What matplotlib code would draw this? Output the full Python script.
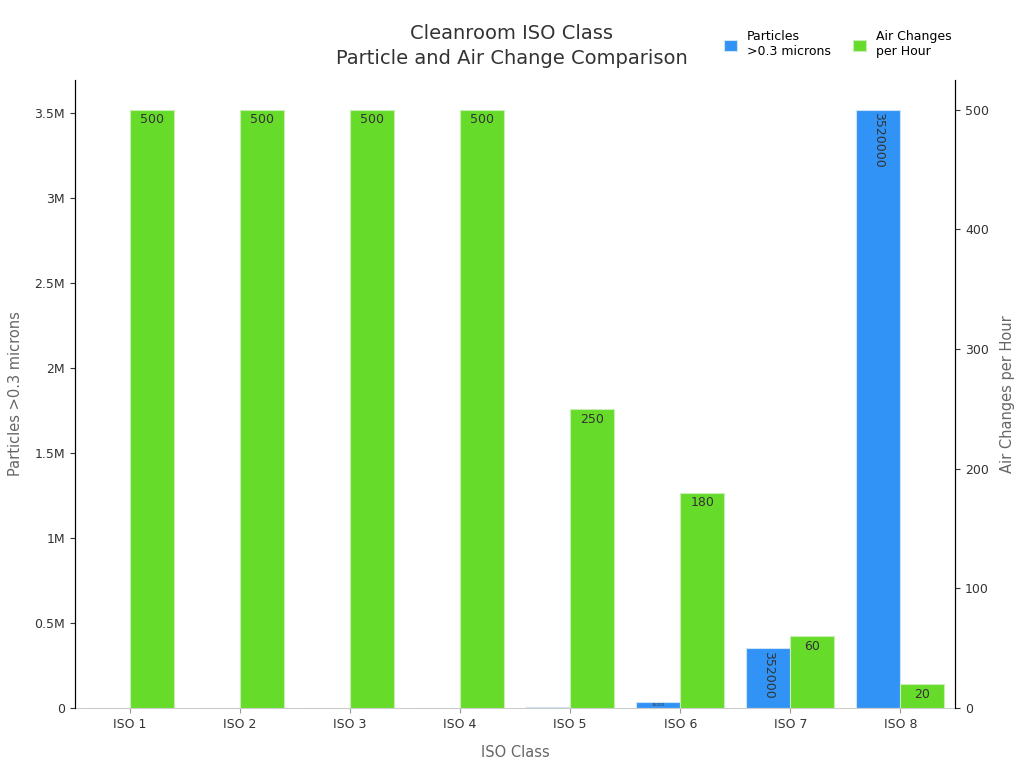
import matplotlib.pyplot as plt
import numpy as np
from matplotlib.ticker import FuncFormatter

classes = ["ISO 1", "ISO 2", "ISO 3", "ISO 4", "ISO 5", "ISO 6", "ISO 7", "ISO 8"]
particles = [0, 4, 35, 352, 3520, 35200, 352000, 3520000]
air_changes = [500, 500, 500, 500, 250, 180, 60, 20]

blue = "#3193f5"
green = "#66db2a"
text_gray = "#666666"

fig = plt.figure(figsize=(10.24, 7.68), dpi=100)
ax = fig.add_axes([0.073, 0.078, 0.86, 0.818])
ax2 = ax.twinx()

x = np.arange(len(classes))
width = 0.4

b1 = ax.bar(x - width / 2, particles, width=width, color=blue, edgecolor="#cfe3f7", linewidth=0.8,
            label="Particles\n>0.3 microns")
b2 = ax2.bar(x + width / 2, air_changes, width=width, color=green, edgecolor="#c8eeb4", linewidth=0.8,
             label="Air Changes\nper Hour")

ax.set_ylim(0, max(particles) * 1.05)
ax2.set_ylim(0, max(air_changes) * 1.05)
ax.set_xlim(-0.5, len(classes) - 0.5)

def fmt_m(v, pos):
    if v == 0:
        return "0"
    return f"{v / 1e6:g}M"

ax.yaxis.set_major_formatter(FuncFormatter(fmt_m))
ax.set_yticks(np.arange(0, 3.6e6, 0.5e6))
ax2.set_yticks(np.arange(0, 501, 100))
ax.set_xticks(x)
ax.set_xticklabels(classes)

for a in (ax, ax2):
    a.spines["top"].set_visible(False)
    a.tick_params(labelsize=9, colors="#333333")
ax.spines["bottom"].set_color("#cccccc")
ax2.spines["bottom"].set_visible(False)
ax.tick_params(axis="x", colors="#999999", labelcolor="#333333")

ax.set_xlabel("ISO Class", fontsize=10.5, color=text_gray, labelpad=10)
ax.set_ylabel("Particles >0.3 microns", fontsize=10.5, color=text_gray, labelpad=8)
ax2.set_ylabel("Air Changes per Hour", fontsize=10.5, color=text_gray, labelpad=8)

# value labels (only where the bar is tall enough to hold them)
ymax1 = ax.get_ylim()[1]
for rect, v in zip(b1, particles):
    h = rect.get_height()
    frac = h / ymax1
    cx = rect.get_x() + rect.get_width() / 2
    if frac > 0.05:
        ax.text(cx, h - ymax1 * 0.004, str(v), rotation=270, ha="center", va="top",
                fontsize=9, color="#333333")
    elif frac > 0.005:
        ax.text(cx, h / 2, str(v), ha="center", va="center", fontsize=3, color="#333333")

for rect, v in zip(b2, air_changes):
    h = rect.get_height()
    ax2.text(rect.get_x() + rect.get_width() / 2, h - 3, str(v),
             ha="center", va="top", fontsize=9, color="#333333")

fig.text(0.5, 0.94, "Cleanroom ISO Class\nParticle and Air Change Comparison", fontsize=14,
         color="#333333", ha="center", va="center", multialignment="center", linespacing=1.45)

handles = [b1, b2]
fig.legend(handles, [h.get_label() for h in handles], loc="upper right",
           bbox_to_anchor=(0.94, 0.975), ncol=2, frameon=False, fontsize=9,
           handlelength=1, handleheight=1, columnspacing=1.8)

fig.savefig("out.png", dpi=100)
